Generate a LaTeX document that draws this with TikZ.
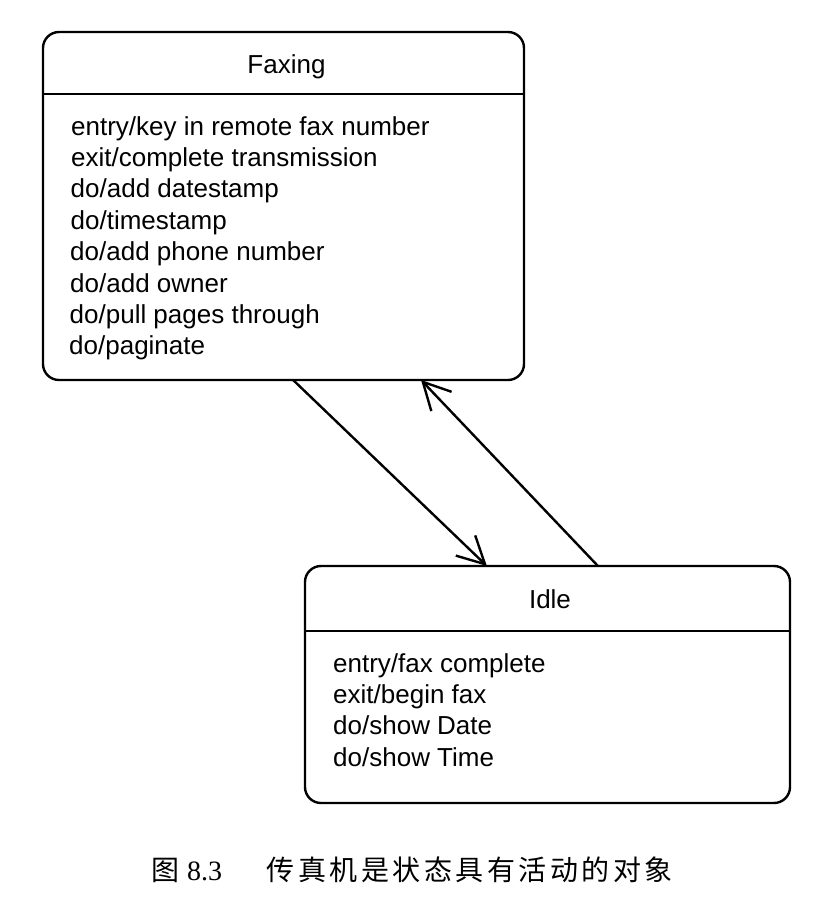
\documentclass[tikz,border=0pt]{standalone}
\usepackage{fontspec}
\setmainfont{Liberation Sans}
\newfontfamily\cjk{Noto Sans CJK SC}
\newfontfamily\capserif{Liberation Serif}
\usetikzlibrary{arrows.meta,calc}
\newcommand{\cks}{\kern3.5pt}
\begin{document}
\begin{tikzpicture}[x=1pt,y=-1pt,
  statebox/.style={draw, line width=2.4pt, rounded corners=16pt, inner sep=0pt, outer sep=0pt, anchor=north west},
  divider/.style={line width=1.5pt},
  title/.style={font=\fontsize{26}{30}\selectfont, anchor=base, inner sep=0pt},
  txt/.style={font=\fontsize{26}{30}\selectfont, anchor=base west, inner sep=0pt},
  trans/.style={line width=2.4pt, line cap=round, -{Straight Barb[length=27pt,width=28pt,line width=2.4pt]}},
  captxt/.style={anchor=base west, inner sep=0pt}]
\useasboundingbox (0,0) rectangle (821,906);

% Faxing state
\node[statebox, minimum width=481pt, minimum height=348pt] (fax) at (43,32) {};
\coordinate (faxdl) at (43,94);
\coordinate (faxdr) at (524,94);
\draw[divider] (faxdl) -- (faxdr);
\node[title] (faxt) at (286.5,73) {Faxing};
\node[txt] (f1) at (71,135) {entry/key in remote fax number};
\node[txt] (f2) at (71,166.4) {exit/complete transmission};
\node[txt] (f3) at (70.5,197.8) {do/add datestamp};
\node[txt] (f4) at (70.5,229.2) {do/timestamp};
\node[txt] (f5) at (70,260.6) {do/add phone number};
\node[txt] (f6) at (70,292) {do/add owner};
\node[txt] (f7) at (69.5,323.4) {do/pull pages through};
\node[txt] (f8) at (69,354.8) {do/paginate};

% Idle state
\node[statebox, minimum width=485pt, minimum height=237pt] (idle) at (305,566) {};
\coordinate (idledl) at (305,631);
\coordinate (idledr) at (790,631);
\draw[divider] (idledl) -- (idledr);
\node[title] (idlet) at (550,608) {Idle};
\node[txt] (i1) at (333,672) {entry/fax complete};
\node[txt] (i2) at (333,703.3) {exit/begin fax};
\node[txt] (i3) at (333,734.7) {do/show Date};
\node[txt] (i4) at (333,766) {do/show Time};

% Transitions
\draw[trans] ($(fax.south west)!0.52!(fax.south east)$) -- ($(idle.north west)!0.375!(idle.north east)$);
\draw[trans] ($(idle.north west)!0.604!(idle.north east)$) -- ($(fax.south west)!0.786!(fax.south east)$);

% Caption
\node[captxt, font=\cjk\fontsize{28}{32}\selectfont] (capfig) at (151.5,880) {图};
\node[captxt, font=\capserif\fontsize{28}{32}\selectfont] (capnum) at (187,880) {8.3};
\node[captxt, font=\cjk\fontsize{28}{32}\selectfont] (captext) at (266.5,880) {传\cks 真\cks 机\cks 是\cks 状\cks 态\cks 具\cks 有\cks 活\cks 动\cks 的\cks 对\cks 象};
\end{tikzpicture}
\end{document}
